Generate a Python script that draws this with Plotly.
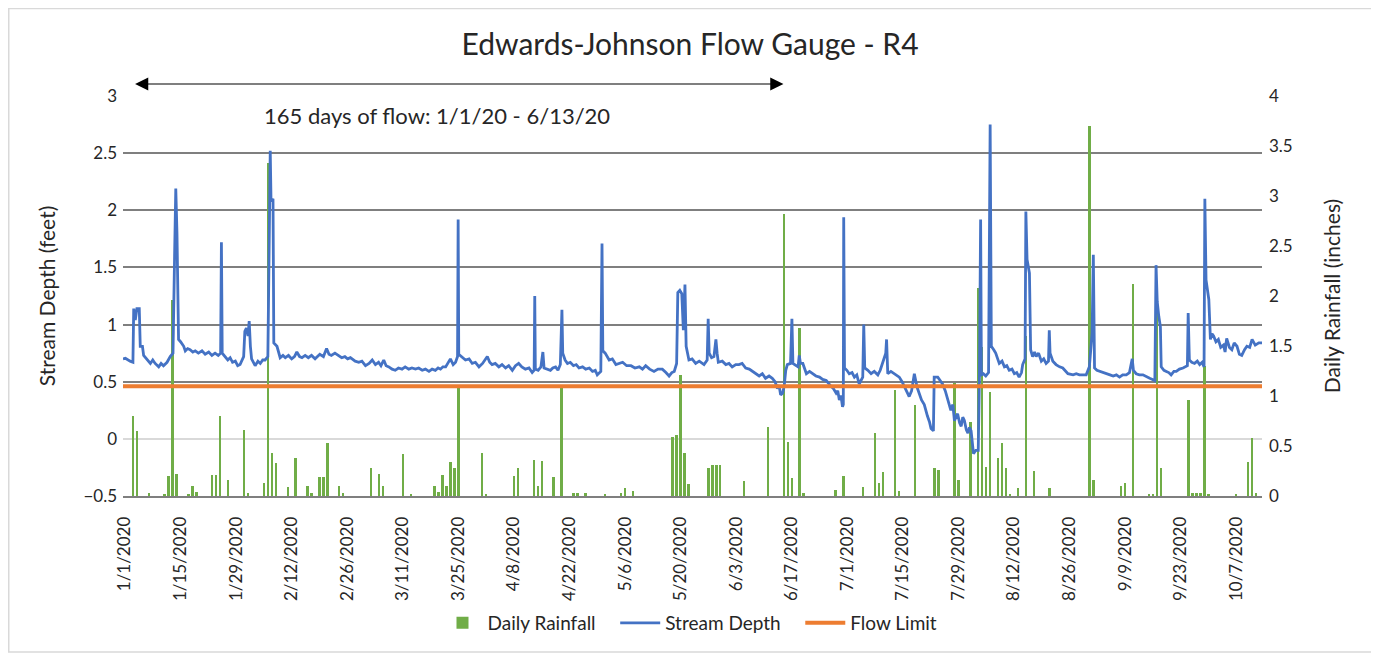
import pandas as pd
import plotly.graph_objects as go

# Stream depth readings: (days since 1/1/2020, depth in feet)
depth_day = [
    0.0, 0.6, 1.8, 2.5, 2.7, 3.1, 3.5, 4.1, 4.35, 4.9, 5.2, 6.0, 6.9, 7.5, 8.1, 9.0, 9.6, 10.2, 11.1, 11.9,
    12.6, 13.0, 13.3, 13.6, 14.0, 14.5, 15.3, 15.7, 16.3, 16.9, 17.6, 18.2, 19.0, 19.9, 20.7, 21.6, 22.4, 23.2,
    24.0, 24.6, 24.8, 25.0, 25.8, 26.4, 27.0, 27.6, 28.3, 28.9, 29.5, 30.4, 30.7, 31.1, 31.5, 31.8, 32.1, 32.4,
    33.3, 34.0, 34.6, 35.2, 35.8, 36.5, 36.8, 37.1, 37.3, 37.8, 38.0, 38.8, 39.6, 40.3, 40.9, 41.7, 42.5, 43.2,
    43.8, 44.5, 45.1, 45.9, 46.7, 47.5, 48.4, 49.0, 49.6, 50.5, 51.3, 51.9, 52.5, 53.4, 54.3, 55.1, 55.9, 56.6,
    57.3, 58.5, 59.4, 60.2, 61.1, 62.0, 62.8, 63.6, 64.4, 65.0, 65.7, 66.3, 67.0, 67.8, 68.6, 69.4, 70.3, 71.1,
    72.0, 72.8, 73.7, 74.5, 75.4, 76.2, 77.1, 77.9, 78.7, 79.4, 80.0, 80.6, 81.3, 81.9, 82.5, 83.2, 83.8, 84.3,
    84.45, 84.6, 85.2, 86.3, 87.2, 88.0, 88.8, 89.7, 90.6, 91.5, 91.8, 92.4, 93.0, 93.8, 94.7, 95.5, 96.4, 97.2,
    98.1, 98.9, 99.7, 100.5, 101.4, 102.3, 103.1, 103.6, 103.75, 103.9, 104.6, 105.3, 105.8, 106.1, 106.9,
    107.7, 108.3, 109.0, 109.6, 110.2, 110.6, 110.8, 111.4, 112.0, 112.7, 113.5, 114.2, 114.9, 115.8, 116.6,
    117.5, 118.3, 119.0, 119.5, 120.4, 120.7, 120.9, 121.5, 122.5, 123.3, 124.2, 125.0, 125.9, 126.9, 128.0,
    129.0, 130.1, 130.9, 131.7, 132.7, 133.8, 134.8, 135.9, 136.8, 137.6, 138.3, 138.9, 139.5, 139.8, 140.3,
    140.8, 141.2, 141.6, 141.9, 142.6, 143.4, 144.3, 145.2, 146.4, 147.2, 147.45, 147.7, 148.3, 148.9, 149.4,
    149.7, 150.0, 151.0, 151.9, 152.7, 153.5, 154.4, 155.2, 156.0, 156.9, 157.8, 158.6, 159.5, 160.3, 161.1,
    161.9, 162.8, 163.6, 164.3, 164.9, 165.3, 165.7, 166.2, 166.6, 167.0, 167.4, 168.2, 168.55, 168.8, 169.5,
    170.1, 170.4, 170.7, 171.3, 172.2, 173.0, 173.8, 174.6, 175.5, 176.3, 177.2, 177.8, 178.4, 179.0, 179.7,
    180.1, 180.5, 180.9, 181.3, 181.5, 181.6, 181.8, 182.4, 183.0, 183.7, 184.3, 184.9, 185.5, 186.4, 186.65,
    186.9, 187.7, 188.5, 189.3, 190.2, 190.8, 191.4, 192.2, 192.4, 192.7, 193.5, 194.4, 195.0, 195.6, 196.3,
    196.9, 197.5, 198.1, 198.7, 199.4, 199.8, 200.2, 201.2, 201.9, 202.7, 203.2, 203.6, 204.2, 204.4, 205.3,
    205.9, 206.5, 207.2, 207.8, 208.6, 209.1, 209.5, 210.3, 210.8, 211.2, 211.6, 212.0, 212.5, 212.9, 213.3,
    213.7, 214.3, 214.9, 215.5, 215.8, 216.1, 216.3, 216.8, 217.4, 218.1, 218.5, 218.8, 219.4, 219.9, 220.4,
    220.8, 221.5, 222.1, 222.7, 223.3, 224.0, 224.6, 225.2, 225.8, 226.4, 226.7, 227.3, 227.5, 227.8, 228.4,
    228.7, 229.2, 229.7, 230.1, 230.7, 231.4, 232.0, 232.6, 233.2, 233.4, 233.6, 234.3, 235.1, 236.0, 236.8,
    237.5, 238.1, 239.4, 240.2, 241.0, 241.9, 242.7, 243.5, 244.2, 244.5, 244.8, 245.4, 246.1, 247.0, 247.8,
    248.7, 249.5, 250.3, 251.1, 251.9, 252.8, 253.6, 254.3, 254.6, 255.3, 256.1, 257.0, 257.9, 258.7, 259.4,
    260.0, 260.3, 260.6, 261.0, 261.4, 261.6, 262.3, 262.9, 263.5, 264.1, 264.8, 265.4, 266.2, 267.1, 267.8,
    268.2, 268.4, 268.7, 269.3, 270.0, 270.7, 271.3, 271.9, 272.4, 272.6, 272.9, 273.6, 274.0, 274.4, 274.8,
    275.4, 276.0, 276.6, 277.3, 277.7, 278.1, 278.8, 279.4, 280.0, 280.7, 281.3, 281.9, 282.6, 283.2, 283.9,
    284.5, 285.3, 286.2, 287.0,
]
depth_ft = [
    0.70, 0.705, 0.68, 0.67, 1.14, 1.04, 1.14, 1.14, 0.81, 0.81, 0.73, 0.70, 0.66, 0.69, 0.66, 0.63, 0.66, 0.64, 0.67, 0.72,
    0.75, 1.60, 2.19, 1.80, 0.87, 0.85, 0.81, 0.77, 0.79, 0.78, 0.76, 0.77, 0.75, 0.77, 0.74, 0.76, 0.73, 0.75,
    0.73, 0.75, 1.72, 0.75, 0.72, 0.69, 0.71, 0.67, 0.68, 0.64, 0.65, 0.72, 0.94, 0.97, 0.90, 1.03, 0.81, 0.70,
    0.64, 0.68, 0.66, 0.69, 0.69, 0.72, 1.60, 2.52, 2.08, 2.10, 0.84, 0.81, 0.71, 0.73, 0.71, 0.73, 0.70, 0.72,
    0.76, 0.72, 0.71, 0.73, 0.71, 0.73, 0.70, 0.72, 0.74, 0.72, 0.79, 0.74, 0.73, 0.75, 0.73, 0.71, 0.72, 0.70,
    0.71, 0.68, 0.67, 0.68, 0.64, 0.66, 0.69, 0.65, 0.67, 0.64, 0.69, 0.64, 0.63, 0.61, 0.60, 0.62, 0.61, 0.63,
    0.61, 0.62, 0.61, 0.62, 0.60, 0.61, 0.59, 0.61, 0.60, 0.62, 0.61, 0.63, 0.63, 0.66, 0.70, 0.65, 0.67, 0.72,
    1.92, 0.74, 0.72, 0.69, 0.70, 0.66, 0.67, 0.63, 0.66, 0.71, 0.72, 0.67, 0.65, 0.66, 0.63, 0.65, 0.62, 0.64,
    0.60, 0.64, 0.66, 0.63, 0.61, 0.62, 0.58, 0.60, 1.25, 0.61, 0.60, 0.63, 0.76, 0.62, 0.61,
    0.60, 0.62, 0.63, 0.60, 0.65, 1.13, 0.75, 0.69, 0.66, 0.67, 0.64, 0.65, 0.62, 0.63, 0.61,
    0.62, 0.59, 0.60, 0.56, 0.59, 1.71, 0.77, 0.75, 0.69, 0.70, 0.65, 0.66, 0.67, 0.64, 0.64,
    0.62, 0.63, 0.61, 0.64, 0.61, 0.59, 0.61, 0.61, 0.58, 0.55, 0.58, 0.59, 0.66, 1.28, 1.30,
    1.27, 0.95, 1.35, 0.81, 0.69, 0.70, 0.66, 0.68, 0.65, 0.69, 1.05, 0.75, 0.71, 0.72, 0.87,
    0.75, 0.67, 0.68, 0.65, 0.66, 0.63, 0.65, 0.65, 0.66, 0.62, 0.61, 0.59, 0.57, 0.55, 0.57,
    0.53, 0.55, 0.53, 0.50, 0.44, 0.47, 0.385, 0.40, 0.46, 0.60, 0.65, 0.66, 1.05, 0.66, 0.64,
    0.63, 0.73, 0.66, 0.66, 0.57, 0.59, 0.57, 0.55, 0.54, 0.52, 0.51, 0.48, 0.46, 0.44, 0.40,
    0.42, 0.34, 0.38, 0.28, 0.30, 1.94, 0.62, 0.60, 0.57, 0.58, 0.54, 0.56, 0.48, 0.54, 1.00,
    0.62, 0.60, 0.57, 0.59, 0.56, 0.60, 0.66, 0.75, 0.87, 0.57, 0.59, 0.57, 0.55, 0.54, 0.50,
    0.46, 0.42, 0.37, 0.42, 0.57, 0.50, 0.44, 0.34, 0.30, 0.20, 0.15, 0.09, 0.07, 0.54, 0.54,
    0.51, 0.48, 0.42, 0.34, 0.25, 0.30, 0.16, 0.22, 0.14, 0.11, 0.19, 0.16, 0.08, 0.05, 0.10,
    0.07, -0.13, -0.10, -0.10, 0.54, 1.92, 0.56, 0.57, 0.55, 0.58, 2.75, 0.81, 0.78, 0.75, 0.70,
    0.66, 0.68, 0.63, 0.64, 0.60, 0.61, 0.57, 0.58, 0.54, 0.58, 0.65, 0.70, 1.99, 1.57, 1.45,
    0.78, 0.72, 0.76, 0.72, 0.75, 0.68, 0.70, 0.66, 0.68, 0.95, 0.75, 0.68, 0.65, 0.63, 0.62,
    0.59, 0.57, 0.56, 0.57, 0.56, 0.56, 0.56, 0.63, 0.93, 1.61, 0.62, 0.60, 0.59, 0.58, 0.57,
    0.56, 0.55, 0.56, 0.54, 0.56, 0.56, 0.58, 0.70, 0.60, 0.57, 0.56, 0.56, 0.54, 0.53, 0.52,
    0.51, 1.52, 1.20, 1.07, 0.98, 0.63, 0.60, 0.59, 0.58, 0.56, 0.59, 0.59, 0.61, 0.62, 0.63,
    0.64, 1.10, 0.69, 0.67, 0.66, 0.68, 0.65, 0.67, 0.63, 2.10, 1.39, 1.22, 0.87, 0.92, 0.90,
    0.85, 0.87, 0.80, 0.82, 0.76, 0.88, 0.80, 0.78, 0.84, 0.81, 0.74, 0.73, 0.78, 0.81, 0.80,
    0.87, 0.82, 0.84, 0.84,
]

# Daily rainfall (inches), by day index since 1/1/2020
rain_day = [
    2, 3, 6, 10, 11, 12, 13, 16, 17, 18, 22, 23, 24, 26, 30, 31, 35, 36, 37, 38, 41, 43, 46, 47, 49, 50, 51,
    54, 55, 62, 64, 65, 70, 72, 78, 79, 80, 81, 82, 83, 84, 90, 91, 98, 99, 103, 104, 105, 108, 110, 113,
    114, 116, 121, 125, 126, 128, 138, 139, 140, 141, 142, 147, 148, 149, 150, 156, 162, 166, 167, 168,
    170, 171, 179, 181, 186, 189, 190, 191, 194, 195, 199, 204, 205, 209, 210, 213, 215, 216, 217, 218,
    220, 221, 222, 223, 225, 227, 229, 233, 243, 244, 251, 252, 254, 258, 259, 260, 261, 268, 269, 270,
    271, 272, 273, 280, 283, 284, 285,
]
rain_in = [
    0.80, 0.65, 0.03, 0.02, 0.20, 1.96, 0.22, 0.02, 0.10, 0.04, 0.21, 0.21, 0.80, 0.16, 0.66, 0.03, 0.13,
    3.33, 0.43, 0.33, 0.09, 0.38, 0.10, 0.03, 0.19, 0.19, 0.53, 0.10, 0.03, 0.28, 0.22, 0.10, 0.42, 0.02,
    0.10, 0.04, 0.21, 0.10, 0.34, 0.28, 1.10, 0.43, 0.02, 0.20, 0.28, 0.36, 0.10, 0.35, 0.19, 1.10, 0.03,
    0.03, 0.03, 0.02, 0.03, 0.08, 0.05, 0.59, 0.61, 1.21, 0.43, 0.12, 0.28, 0.31, 0.31, 0.31, 0.15, 0.69,
    2.82, 0.54, 0.18, 1.68, 0.03, 0.06, 0.20, 0.09, 0.63, 0.13, 0.24, 1.06, 0.05, 0.91, 0.28, 0.26, 1.13,
    0.16, 0.74, 2.08, 1.49, 0.29, 1.04, 0.38, 0.53, 0.28, 0.02, 0.08, 1.60, 0.25, 0.08, 3.70, 0.16, 0.10,
    0.13, 2.12, 0.02, 0.02, 1.89, 0.28, 0.96, 0.03, 0.03, 0.03, 1.30, 0.02, 0.02, 0.34, 0.58, 0.03,
]

flow_limit_dates = ['2020-01-01', '2020-10-14']
flow_limit_ft = [0.46, 0.46]

tick_labels = ['1/1/2020', '1/15/2020', '1/29/2020', '2/12/2020', '2/26/2020', '3/11/2020', '3/25/2020',
               '4/8/2020', '4/22/2020', '5/6/2020', '5/20/2020', '6/3/2020', '6/17/2020', '7/1/2020',
               '7/15/2020', '7/29/2020', '8/12/2020', '8/26/2020', '9/9/2020', '9/23/2020', '10/7/2020']

start = pd.Timestamp('2020-01-01')
depth_time = start + pd.to_timedelta(depth_day, unit='D')
rain_time = start + pd.to_timedelta(rain_day, unit='D') + pd.Timedelta(hours=12)
tick_pos = pd.to_datetime(tick_labels, format='%m/%d/%Y') + pd.Timedelta(hours=12)

FONT = 'Lato'
grid = '#7f7f7f'
pad = '\u00a0' * 3  # extra gap between legend entries

fig = go.Figure()
fig.add_trace(go.Bar(x=rain_time, y=rain_in, name='Daily Rainfall' + pad, marker_color='#70AD47',
                     marker_line_width=0, width=0.6 * 86400000, yaxis='y'))
fig.add_trace(go.Scatter(x=depth_time, y=depth_ft, name='Stream Depth' + pad, mode='lines',
                         line=dict(color='#4472C4', width=2.8), yaxis='y2'))
fig.add_trace(go.Scatter(x=pd.to_datetime(flow_limit_dates), y=flow_limit_ft, name='Flow Limit',
                         mode='lines', line=dict(color='#ED7D31', width=4), yaxis='y2'))

# the page adds an 8px body margin, so everything is laid out 8px up/left
fig.update_layout(
    width=1379, height=658,
    margin=dict(l=115, r=125, t=88, b=170, autoexpand=False),
    paper_bgcolor='white', plot_bgcolor='white',
    font=dict(family=FONT, size=17, color='#262626'),
    title=dict(text='Edwards-Johnson Flow Gauge - R4', x=0.4946, xref='container', y=0.9438,
               xanchor='center', yanchor='middle', font=dict(family=FONT, size=30, color='#262626')),
    bargap=0,
    showlegend=True,
    legend=dict(orientation='h', x=0.4978, xanchor='center', y=-0.3175, yanchor='middle',
                font=dict(size=19), itemwidth=40, traceorder='normal'),
    xaxis=dict(range=[start, pd.Timestamp('2020-10-14')], tickmode='array', tickvals=tick_pos,
               ticktext=tick_labels, tickangle=-90, showgrid=False, ticks='', showline=True,
               linecolor=grid, linewidth=1.8, ticklabelstandoff=12, tickfont=dict(size=17),
               automargin=False),
    yaxis=dict(range=[0, 4], dtick=0.5, side='right', showgrid=False, zeroline=False, ticks='',
               ticklabelstandoff=6, automargin=False,
               title=dict(text='Daily Rainfall (inches)', standoff=33, font=dict(size=21))),
    yaxis2=dict(range=[-0.5, 3], dtick=0.5, side='left', overlaying='y', showgrid=True,
                gridcolor=grid, gridwidth=1.8, zeroline=True, zerolinecolor='#d9d9d9',
                zerolinewidth=1.5, ticks='', ticklabelstandoff=5, automargin=False,
                title=dict(text='Stream Depth (feet)', standoff=22, font=dict(size=21))),
    shapes=[dict(type='rect', xref='paper', yref='paper', x0=-0.1003, x1=1.0975, y0=-0.39, y1=1.219,
                 line=dict(color='#d9d9d9', width=1.5), fillcolor='rgba(0,0,0,0)', layer='below')],
    annotations=[
        dict(x=pd.Timestamp('2020-06-15 10:00'), ax=pd.Timestamp('2020-01-03 16:00'), xref='x', axref='x',
             y=1.03, yref='paper', ay=0, ayref='pixel', text='', showarrow=True,
             arrowhead=2, startarrowhead=2, arrowside='end+start', arrowsize=2.2, startarrowsize=2.2,
             arrowwidth=1.2, arrowcolor='black'),
        dict(x=0.2757, y=0.9525, xref='paper', yref='paper', text='165 days of flow: 1/1/20 - 6/13/20',
             showarrow=False, font=dict(size=22, color='#262626'), xanchor='center', yanchor='middle'),
    ],
)

fig.write_html('out.html')
